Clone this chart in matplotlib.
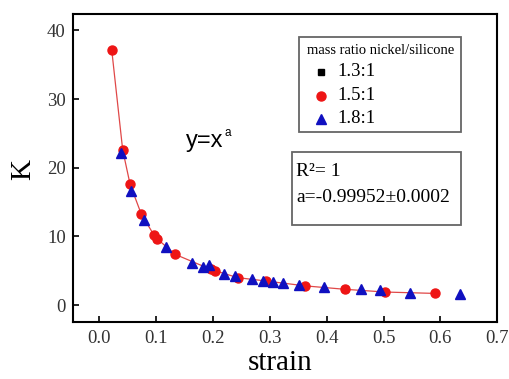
import matplotlib
matplotlib.use("Agg")
import matplotlib.pyplot as plt
from matplotlib.patches import Rectangle

# Gauge factor K versus strain for three nickel/silicone mass ratios
strain_13 = [0.041, 0.101, 0.196, 0.294, 0.432]
k_13 = [22.6, 9.7, 5.2, 3.5, 2.3]

strain_15 = [0.0218, 0.041, 0.054, 0.0735, 0.096, 0.101, 0.133, 0.196, 0.204,
             0.243, 0.294, 0.362, 0.432, 0.503, 0.591]
k_15 = [37.1, 22.6, 17.6, 13.3, 10.2, 9.7, 7.4, 5.2, 5.0,
        4.0, 3.5, 2.8, 2.3, 1.9, 1.7]

strain_18 = [0.038, 0.056, 0.079, 0.118, 0.163, 0.182, 0.192, 0.219, 0.238,
             0.268, 0.288, 0.306, 0.323, 0.351, 0.395, 0.461, 0.494, 0.547, 0.635]
k_18 = [22.2, 16.6, 12.4, 8.5, 6.2, 5.5, 5.8, 4.6, 4.2,
        3.8, 3.5, 3.4, 3.2, 2.9, 2.7, 2.3, 2.2, 1.8, 1.6]

series_labels = ["1.3:1", "1.5:1", "1.8:1"]
legend_title = "mass ratio nickel/silicone"
x_ticks = [0.0, 0.1, 0.2, 0.3, 0.4, 0.5, 0.6, 0.7]
y_ticks = [0, 10, 20, 30, 40]
fit_text = ["R\u00b2= 1", "a=-0.99952\u00b10.0002"]

SERIF = ["Liberation Serif", "DejaVu Serif"]
SANS = ["Liberation Sans", "DejaVu Sans"]
RED = "#ee1515"
BLUE = "#1010c0"
BOX_EDGE = "#666666"

fig = plt.figure(figsize=(5.10, 3.79), dpi=100)
ax = fig.add_axes([0.1425, 0.151, 0.8325, 0.812])

# thin connecting curve through the 1.5:1 series
ax.plot(strain_15, k_15, color="#e04848", lw=0.9, zorder=2)

ax.plot(strain_13, k_13, ls="none", marker="s", ms=5, color="black", zorder=3)
ax.plot(strain_15, k_15, ls="none", marker="o", ms=6.5, color=RED,
        mec=RED, zorder=4)
ax.plot(strain_18, k_18, ls="none", marker="^", ms=6.5, color=BLUE,
        mec=BLUE, zorder=5)

ax.set_xlim(-0.047, 0.7)
ax.set_ylim(-2.43, 42.4)
ax.set_xticks(x_ticks)
ax.set_xticklabels([f"{v:.1f}" for v in x_ticks])
ax.set_yticks(y_ticks)
ax.tick_params(direction="in", length=4, width=1.2, labelsize=13.5,
               labelcolor="#333333", top=False, right=False)
ax.tick_params(axis="y", pad=5)
ax.tick_params(axis="x", pad=6)
for lab in ax.get_xticklabels() + ax.get_yticklabels():
    lab.set_family(SERIF)
for sp in ax.spines.values():
    sp.set_linewidth(1.5)

ax.set_xlabel("strain", family=SERIF, fontsize=21, va="baseline")
ax.xaxis.set_label_coords(0.488, -0.158)
ax.set_ylabel("K", family=SERIF, fontsize=21)
ax.yaxis.set_label_coords(-0.086, 0.496)

# legend box (series key)
ax.add_patch(Rectangle((0.533, 0.617), 0.381, 0.308, transform=ax.transAxes,
                       fill=False, edgecolor=BOX_EDGE, lw=1.3, zorder=6))
ax.text(0.725, 0.883, legend_title, transform=ax.transAxes, family=SERIF,
        fontsize=10.5, ha="center", va="center", zorder=7)
key_styles = [("s", 5, "black"), ("o", 6.5, RED), ("^", 7, BLUE)]
key_rows = [0.812, 0.735, 0.659]
for (mk, size, col), row, lab in zip(key_styles, key_rows, series_labels):
    ax.plot([0.585], [row], ls="none", marker=mk, ms=size, color=col,
            transform=ax.transAxes, clip_on=False, zorder=7)
    ax.text(0.624, row, lab, transform=ax.transAxes, family=SERIF,
            fontsize=13.5, ha="left", va="center", zorder=7)

# fit result box
ax.add_patch(Rectangle((0.5155, 0.313), 0.40, 0.24, transform=ax.transAxes,
                       fill=False, edgecolor=BOX_EDGE, lw=1.3, zorder=6))
ax.text(0.526, 0.488, fit_text[0], transform=ax.transAxes, family=SERIF,
        fontsize=14, va="center", ha="left", zorder=7)
ax.text(0.526, 0.403, fit_text[1], transform=ax.transAxes, family=SERIF,
        fontsize=14, va="center", ha="left", zorder=7)

# model expression
ax.text(0.267, 0.568, "y=x", transform=ax.transAxes, family=SANS,
        fontsize=17, va="baseline", ha="left")
ax.text(0.357, 0.6035, "a", transform=ax.transAxes, family=SANS,
        fontsize=8.5, va="baseline", ha="left")

fig.savefig("out.png", dpi=100)
